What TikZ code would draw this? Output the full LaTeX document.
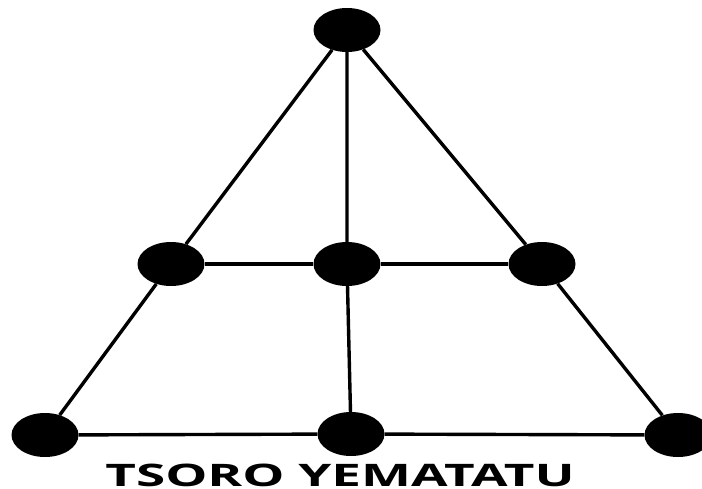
\documentclass[tikz,border=0pt]{standalone}
\usepackage{fontspec}
\usepackage{graphicx}
\setmainfont{Open Sans}
\usetikzlibrary{shapes.geometric}
\begin{document}
\begin{tikzpicture}[x=1pt,y=-1pt,
  spot/.style={ellipse,fill=black,minimum width=67pt,minimum height=44pt,inner sep=0pt},
  edge/.style={line width=3.4pt,black}]
\useasboundingbox (0,0) rectangle (702,488);
\clip (0,0) rectangle (702,488);
\node[spot] (t) at (347,30) {};
\node[spot] (ml) at (171,264) {};
\node[spot] (mc) at (347,264) {};
\node[spot] (mr) at (542,264) {};
\node[spot] (bl) at (45,435) {};
\node[spot] (bc) at (351,434) {};
\node[spot] (br) at (678,435) {};
\draw[edge] (t) -- (ml) -- (bl) -- (bc) -- (br) -- (mr) -- (t);
\draw[edge] (t) -- (mc) -- (bc);
\draw[edge] (ml) -- (mc) -- (mr);
\node[anchor=base,inner sep=0pt,font=\bfseries\fontsize{31}{33}\selectfont] (title) at (340,486) {\scalebox{1.71}[1]{TSORO YEMATATU}};
\end{tikzpicture}
\end{document}
